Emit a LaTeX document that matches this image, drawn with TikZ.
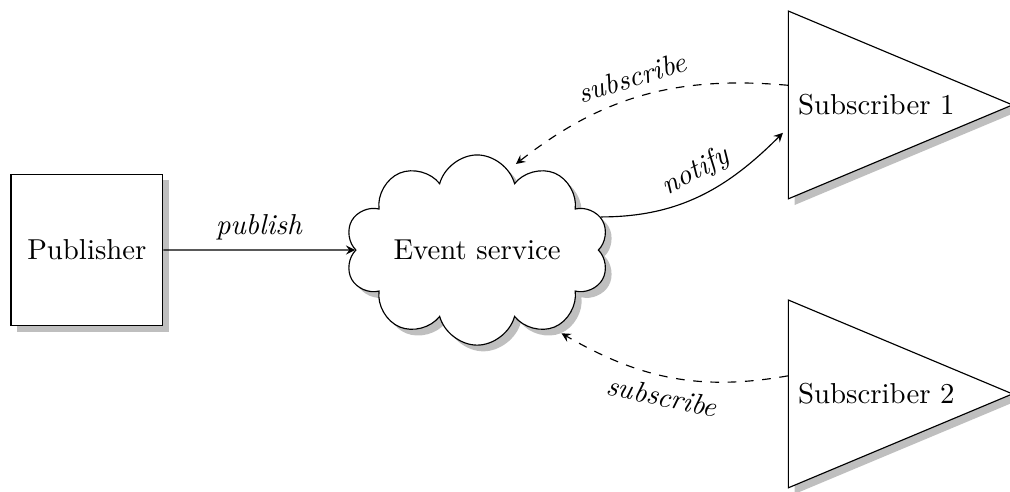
\documentclass[tikz,border=0pt]{standalone}
\usetikzlibrary{shapes.geometric,shapes.symbols,shadows,arrows}

\begin{document}
\begin{tikzpicture}[>=stealth,
    pubbox/.style={draw, fill=white, drop shadow, minimum size=1.85cm},
    service/.style={draw, cloud, cloud puffs=10, cloud ignores aspect, fill=white,
        drop shadow, minimum width=3.21cm, minimum height=2.32cm},
    client/.style={draw, isosceles triangle, isosceles triangle stretches,
        fill=white, drop shadow, minimum width=2.29cm, minimum height=2.68cm,
        anchor=west}]
    \pgfmathsetmacro{\midy}{2.95} % Height of the main line
    \pgfmathsetmacro{\subx}{9.61} % Left side of the subscribers

    \useasboundingbox (0,0) rectangle (12.32,6);

    % Nodes
    \node[pubbox] (pub) at (1.06, \midy) {Publisher};
    \node[service] (event) at (5.82, \midy) {Event service};
    \node[client] (sub1) at (\subx, 4.72) {Subscriber 1};
    \node[client] (sub2) at (\subx, 1.195) {Subscriber 2};

    % Publishing
    \draw[->] (pub) -- node[above] {\textit{publish}} (event);

    % Subscriptions and notification
    \draw[->, dashed] ([yshift=0.24cm]sub1.west) to[out=175, in=38]
        node[sloped, above, pos=0.52] {\textit{subscribe}} ([xshift=0.06cm, yshift=0.12cm]event.66);
    \draw[->] (event.15) to[out=0, in=225]
        node[sloped, above, pos=0.54] {\textit{notify}} ([xshift=-0.06cm, yshift=-0.34cm]sub1.west);
    \draw[->, dashed] ([yshift=0.22cm]sub2.west) to[out=190, in=330]
        node[sloped, below, pos=0.52] {\textit{subscribe}} ([xshift=0.06cm, yshift=-0.08cm]event.316);

\end{tikzpicture}
\end{document}
